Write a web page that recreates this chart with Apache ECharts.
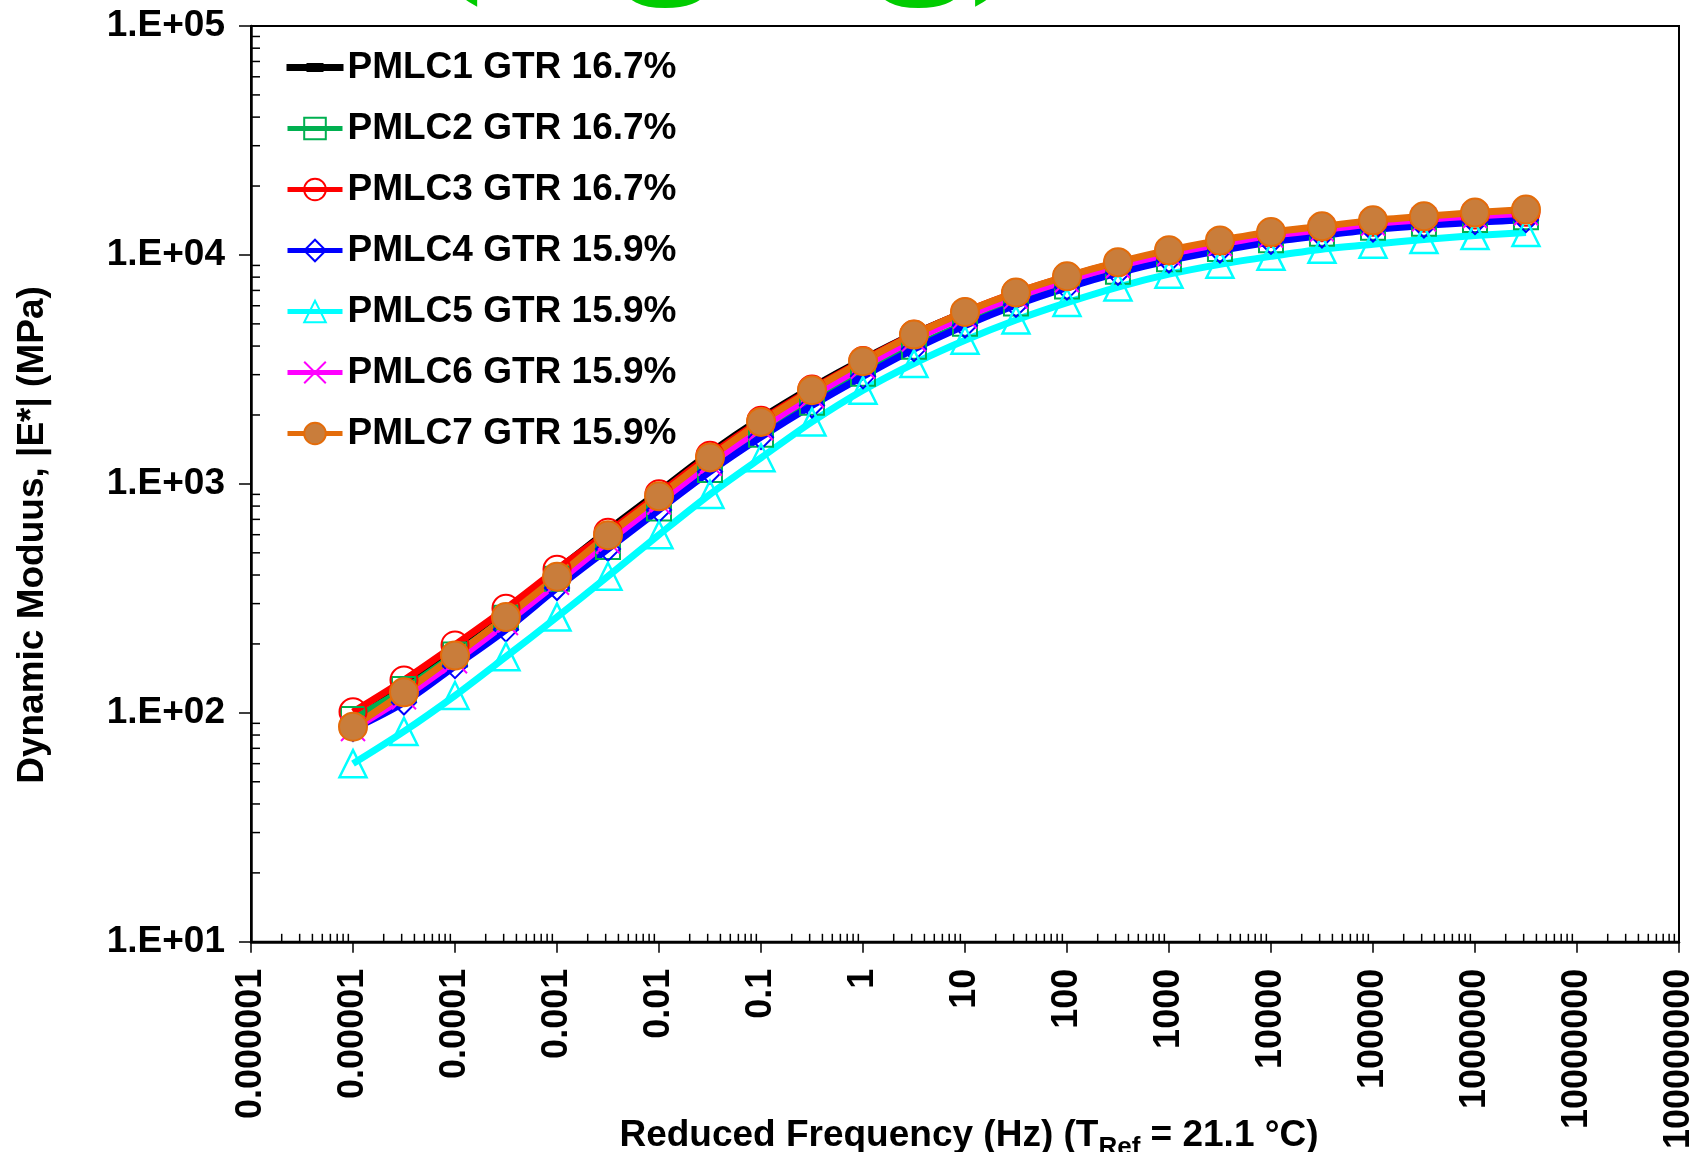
<!DOCTYPE html>
<html>
<head>
<meta charset="utf-8">
<script src="https://cdn.jsdelivr.net/npm/echarts@6/dist/echarts.min.js"></script>
<style>
html,body{margin:0;padding:0;background:#fff;}
#chart{width:1704px;height:1152px;}
</style>
</head>
<body>
<div id="chart"></div>
<script>
// Reduced frequency (Hz)
const freq = [0.00001, 0.0000316, 0.0001, 0.000316, 0.001, 0.00316, 0.01, 0.0316, 0.1, 0.316, 1, 3.16, 10, 31.6, 100, 316, 1000, 3160, 10000, 31600, 100000, 316000, 1000000, 3160000];

// Dynamic modulus |E*| (MPa)
const pmlc1 = [92, 131, 192, 282, 420, 628, 925, 1365, 1935, 2640, 3500, 4520, 5620, 6790, 7950, 9100, 10200, 11200, 12100, 12850, 13550, 14100, 14550, 14900];
const pmlc2 = [94, 127, 180, 260, 385, 530, 780, 1150, 1640, 2260, 3030, 3970, 5000, 6130, 7280, 8450, 9580, 10620, 11600, 12380, 13150, 13700, 14200, 14600];
const pmlc3 = [101, 139, 198, 286, 424, 615, 905, 1335, 1895, 2595, 3460, 4505, 5640, 6850, 8050, 9250, 10400, 11450, 12400, 13150, 13900, 14450, 14950, 15350];
const pmlc4 = [85, 111, 160, 231, 351, 520, 770, 1130, 1600, 2200, 2950, 3880, 4920, 6050, 7200, 8350, 9450, 10450, 11400, 12150, 12900, 13450, 13900, 14200];
const pmlc5 = [60, 83, 119, 176, 262, 395, 600, 900, 1300, 1866, 2565, 3357, 4240, 5200, 6195, 7244, 8240, 9100, 9860, 10590, 11140, 11670, 12150, 12540];
const pmlc6 = [85, 117, 168, 247, 370, 560, 830, 1225, 1750, 2420, 3250, 4270, 5380, 6560, 7750, 8950, 10100, 11150, 12150, 12900, 13700, 14300, 14800, 15200];
const pmlc7 = [87, 123, 178, 262, 393, 597, 883, 1304, 1866, 2565, 3433, 4490, 5636, 6855, 8073, 9295, 10490, 11570, 12590, 13330, 14160, 14750, 15310, 15780];

const seriesNames = ['PMLC1 GTR 16.7%', 'PMLC2 GTR 16.7%', 'PMLC3 GTR 16.7%', 'PMLC4 GTR 15.9%', 'PMLC5 GTR 15.9%', 'PMLC6 GTR 15.9%', 'PMLC7 GTR 15.9%'];

// Tick labels
const xTickLabels = ['0.000001', '0.00001', '0.0001', '0.001', '0.01', '0.1', '1', '10', '100', '1000', '10000', '100000', '1000000', '10000000', '100000000'];
const yTickLabels = ['1.E+01', '1.E+02', '1.E+03', '1.E+04', '1.E+05'];

const X_MIN = 1e-6, X_MAX = 1e8, Y_MIN = 10, Y_MAX = 1e5;
const FONT = 'Liberation Sans, Arial, sans-serif';

function pairs(ys) { return freq.map((f, i) => [f, ys[i]]); }

// minor tick positions (2..9 within each decade)
const xMinor = [], yMinor = [];
for (let e = -6; e < 8; e++) for (let m = 2; m <= 9; m++) xMinor.push([m * Math.pow(10, e), Y_MIN]);
for (let e = 1; e < 5; e++) for (let m = 2; m <= 9; m++) yMinor.push([X_MIN, m * Math.pow(10, e)]);

const LW = 7;
function mk(name, ys, color, symbol, size, fill, extra) {
  return Object.assign({
    name: name, type: 'line', data: pairs(ys), smooth: 0.3,
    symbol: symbol, symbolSize: size, showAllSymbol: true,
    lineStyle: { color: color, width: LW },
    itemStyle: { color: fill, borderColor: color, borderWidth: 2 },
    emphasis: { disabled: true }, z: 3
  }, extra || {});
}

const series = [
  mk(seriesNames[0], pmlc1, '#000000', 'none', 0, '#000000'),
  mk(seriesNames[1], pmlc2, '#00B050', 'rect', 24, 'rgba(0,0,0,0)'),
  mk(seriesNames[2], pmlc3, '#FF0000', 'circle', 27, 'rgba(0,0,0,0)'),
  mk(seriesNames[3], pmlc4, '#0000FF', 'diamond', 24, 'rgba(0,0,0,0)'),
  mk(seriesNames[4], pmlc5, '#00FFFF', 'triangle', 27, 'rgba(0,0,0,0)', { itemStyle: { color: 'rgba(0,0,0,0)', borderColor: '#00FFFF', borderWidth: 2.5 } }),
  mk(seriesNames[5], pmlc6, '#FF00FF', 'path://M0,0L10,10M10,0L0,10', 24, 'rgba(0,0,0,0)'),
  mk(seriesNames[6], pmlc7, '#E46C0A', 'circle', 28, '#C97D3B'),
  {
    name: 'xminor', type: 'custom', data: xMinor, silent: true, z: 1,
    encode: { x: 0, y: 1 },
    renderItem: function (params, api) {
      const p = api.coord([api.value(0), api.value(1)]);
      return { type: 'line', shape: { x1: p[0], y1: p[1], x2: p[0], y2: p[1] - 8 }, style: { stroke: '#000', lineWidth: 1.5 } };
    }
  },
  {
    name: 'yminor', type: 'custom', data: yMinor, silent: true, z: 1,
    encode: { x: 0, y: 1 },
    renderItem: function (params, api) {
      const p = api.coord([api.value(0), api.value(1)]);
      return { type: 'line', shape: { x1: p[0], y1: p[1], x2: p[0] + 9, y2: p[1] }, style: { stroke: '#000', lineWidth: 1.5 } };
    }
  }
];

const chart = echarts.init(document.getElementById('chart'), null, { renderer: 'canvas' });
chart.setOption({
  animation: false,
  backgroundColor: '#ffffff',
  grid: { left: 251, right: 25, top: 26, bottom: 210, show: true, borderColor: '#000', borderWidth: 2, backgroundColor: 'transparent' },
  legend: {
    orient: 'vertical', left: 280, top: 44,
    itemWidth: 55, itemHeight: 27, itemGap: 24,
    lineStyle: { width: 5 },
    textStyle: { fontFamily: FONT, fontWeight: 'bold', fontSize: 37, color: '#000', lineHeight: 37 },
    data: [
      { name: seriesNames[0], icon: 'path://M0,2h20v-1h15v1h20v5h-20v1h-15v-1h-20z' },
      seriesNames[1], seriesNames[2], seriesNames[3], seriesNames[4], seriesNames[5], seriesNames[6]
    ]
  },
  xAxis: {
    type: 'log', logBase: 10, min: X_MIN, max: X_MAX, interval: 1, splitNumber: 14,
    axisLine: { show: true, lineStyle: { color: '#000', width: 2.5 } },
    axisTick: { show: true, inside: false, length: 11, lineStyle: { color: '#000', width: 1.5 } },
    splitLine: { show: false },
    axisLabel: {
      interval: 0, rotate: 90, margin: 27, showMinLabel: true, showMaxLabel: true,
      fontFamily: FONT, fontWeight: 'bold', fontSize: 36, color: '#000',
      formatter: function (v) { return xTickLabels[Math.round(Math.log10(v)) + 6]; }
    }
  },
  yAxis: {
    type: 'log', logBase: 10, min: Y_MIN, max: Y_MAX, interval: 1,
    axisLine: { show: true, lineStyle: { color: '#000', width: 2.5 } },
    axisTick: { show: true, inside: false, length: 12, lineStyle: { color: '#000', width: 1.5 } },
    splitLine: { show: false },
    axisLabel: {
      margin: 26,
      fontFamily: FONT, fontWeight: 'bold', fontSize: 37, color: '#000',
      formatter: function (v) { return yTickLabels[Math.round(Math.log10(v)) - 1]; }
    }
  },
  graphic: [
    {
      type: 'text', z: 10, x: 969, y: 1136,
      style: {
        text: 'Reduced Frequency (Hz) (T{sub|Ref} = 21.1 °C)',
        x: 0, y: 0, align: 'center', verticalAlign: 'middle',
        fontFamily: FONT, fontWeight: 'bold', fontSize: 37, fill: '#000', lineHeight: 50,
        rich: { sub: { fontFamily: FONT, fontWeight: 'bold', fontSize: 26, fill: '#000', lineHeight: 20, verticalAlign: 'bottom' } }
      }
    },
    {
      type: 'text', z: 10, x: 33, y: 535, rotation: Math.PI / 2,
      style: {
        text: 'Dynamic Moduus, |E*| (MPa)', x: 0, y: 0, align: 'center', verticalAlign: 'middle',
        fontFamily: FONT, fontWeight: 'bold', fontSize: 37, fill: '#000'
      }
    },
    {
      type: 'text', z: 10, x: 420, y: 12,
      style: {
        text: '(Aging)', x: 0, y: 0, align: 'left', verticalAlign: 'bottom',
        fontFamily: 'Liberation Serif, serif', fontWeight: 'bold', fontSize: 190, fill: '#00CC00'
      }
    }
  ],
  series: series
});
</script>
</body>
</html>
